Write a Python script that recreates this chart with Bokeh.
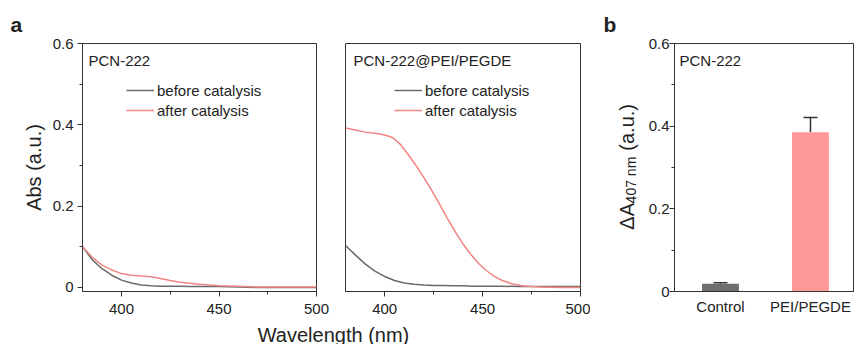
import math
from bokeh.plotting import figure
from bokeh.models import (Range1d, FixedTicker, Label, Legend, LegendItem,
                          Whisker, ColumnDataSource, TeeHead)
from bokeh.layouts import row, column
from bokeh.embed import file_html
from bokeh.resources import INLINE

# ---------------- data ----------------
wavelength = [380, 385, 390, 395, 400, 405, 410, 415, 420, 425, 430, 435,
              440, 445, 450, 460, 470, 480, 490, 500]
pcn_before = [0.100, 0.068, 0.046, 0.030, 0.018, 0.011, 0.006, 0.004, 0.003,
              0.003, 0.003, 0.002, 0.002, 0.002, 0.002, 0.001, 0.000, 0.000,
              0.000, 0.000]
pcn_after = [0.100, 0.074, 0.055, 0.043, 0.034, 0.030, 0.028, 0.026, 0.022,
             0.017, 0.013, 0.010, 0.008, 0.006, 0.004, 0.003, 0.001, 0.001,
             0.001, 0.001]
pei_before = [0.103, 0.080, 0.058, 0.040, 0.027, 0.017, 0.011, 0.008, 0.006,
              0.005, 0.005, 0.004, 0.004, 0.003, 0.003, 0.003, 0.002, 0.002,
              0.002, 0.002]
wavelength_pei_after = [380, 385, 390, 395, 400, 404, 408, 412, 416, 420, 424,
                        428, 432, 436, 440, 444, 448, 452, 456, 460, 465, 470,
                        475, 480, 490, 500]
pei_after = [0.392, 0.387, 0.382, 0.379, 0.375, 0.369, 0.352, 0.327, 0.300,
             0.270, 0.239, 0.205, 0.170, 0.137, 0.107, 0.081, 0.059, 0.041,
             0.027, 0.017, 0.009, 0.004, 0.002, 0.001, 0.000, 0.000]

categories = ["Control", "PEI/PEGDE"]
delta_a407 = [0.019, 0.385]
delta_err = [0.002, 0.036]

x_ticks = [400, 450, 500]
x_minor = [425, 475]
y_ticks = [0.0, 0.2, 0.4, 0.6]
y_minor = [0.1, 0.3, 0.5]

# ---------------- style ----------------
FONT = "Liberation Sans"
TXT = "#222222"
AX = "#333333"
GRAY = "#6a6a6a"
RED = "#f28484"
BAR_COLORS = ["#6f6f6f", "#ff9898"]
PAGE_W = 854
TOP_H = 36      # strip holding the panel letters
ROW_H = 287     # row of plots
BOT_H = 21      # strip holding the shared x label
TOP = 7
BOT = 32


def strip(width, height):
    s = figure(width=width, height=height, x_range=Range1d(0, width),
               y_range=Range1d(0, height), output_backend="svg",
               toolbar_location=None, min_border=0)
    s.axis.visible = False
    s.grid.visible = False
    s.outline_line_color = None
    s.background_fill_color = "white"
    s.border_fill_color = "white"
    return s


def make_fig(width, left, right, xr, yr):
    p = figure(width=width, height=ROW_H, x_range=xr, y_range=yr,
               output_backend="svg", toolbar_location=None,
               min_border_left=left, min_border_right=right,
               min_border_top=TOP, min_border_bottom=BOT)
    p.grid.visible = False
    p.outline_line_color = AX
    p.outline_line_width = 1
    p.background_fill_color = "white"
    p.border_fill_color = "white"
    for ax in p.axis:
        ax.axis_line_color = AX
        ax.major_tick_line_color = AX
        ax.minor_tick_line_color = AX
        ax.major_tick_out = 5
        ax.major_tick_in = 0
        ax.minor_tick_out = 3
        ax.minor_tick_in = 0
        ax.major_label_text_font = FONT
        ax.major_label_text_font_size = "15px"
        ax.major_label_text_color = TXT
        ax.axis_label_text_font = FONT
        ax.axis_label_text_font_style = "normal"
        ax.axis_label_text_color = TXT
    return p


def add_text(p, text, x, y, size="15px", style="normal", baseline="middle",
             align="left", angle=0.0, units="screen"):
    p.add_layout(Label(x=x, y=y, x_units=units, y_units=units,
                       text=text, text_font=FONT, text_font_size=size,
                       text_font_style=style, text_color=TXT,
                       text_baseline=baseline, text_align=align,
                       angle=angle))


def spectra_panel(width, left, right, title, title_x, before_x, before_y,
                  after_x, after_y, legend_x, show_y):
    p = make_fig(width, left, right, Range1d(380, 500), Range1d(-0.01, 0.6))
    p.xaxis.ticker = FixedTicker(ticks=x_ticks, minor_ticks=x_minor)
    p.xaxis.major_label_standoff = 7
    if show_y:
        p.yaxis.ticker = FixedTicker(ticks=y_ticks, minor_ticks=y_minor)
        p.yaxis.major_label_standoff = 4
        p.yaxis.axis_label = "Abs (a.u.)"
        p.yaxis.axis_label_text_font_size = "20px"
        p.yaxis.axis_label_standoff = 5
    else:
        p.yaxis.visible = False
    r1 = p.line(before_x, before_y, line_color=GRAY, line_width=1.5)
    r2 = p.line(after_x, after_y, line_color=RED, line_width=1.5)
    leg = Legend(items=[LegendItem(label="before catalysis", renderers=[r1]),
                        LegendItem(label="after catalysis", renderers=[r2])],
                 location=(legend_x, 171), orientation="vertical",
                 glyph_width=28, glyph_height=20, label_height=20,
                 label_standoff=3, spacing=0, padding=0, margin=0,
                 border_line_color=None, background_fill_alpha=0,
                 label_text_font=FONT, label_text_font_size="15px",
                 label_text_color=TXT)
    p.add_layout(leg)
    add_text(p, title, title_x, 231)
    return p


# top strip with panel letters
top = strip(PAGE_W, TOP_H)
add_text(top, "a", 10, 12.4, size="21px", style="bold", units="data")
add_text(top, "b", 603, 12.4, size="21px", style="bold", units="data")

# panel a (left)
f1 = spectra_panel(330, 82, 14, "PCN-222", 6, wavelength, pcn_before,
                   wavelength, pcn_after, 44, True)

# panel a (right)
f2 = spectra_panel(260, 15, 10, "PCN-222@PEI/PEGDE", 8, wavelength,
                   pei_before, wavelength_pei_after, pei_after, 49, False)

# y label strip for panel b: ΔA with subscript 407 nm, then (a.u.)
ys = strip(50, ROW_H)
half_pi = math.pi / 2
add_text(ys, "ΔA", 36, 87, size="20px", align="center", angle=half_pi,
         units="data")
add_text(ys, "407 nm", 40, 129, size="14px", align="center",
         angle=half_pi, units="data")
add_text(ys, "(a.u.)", 36, 190, size="20px", align="center",
         angle=half_pi, units="data")

# panel b
xpos = list(range(len(categories)))
f3 = make_fig(214, 34, 1, Range1d(-0.511, 1.478), Range1d(0, 0.6))
f3.yaxis.ticker = FixedTicker(ticks=y_ticks, minor_ticks=y_minor)
f3.yaxis.major_label_overrides = {0.0: "0", 0.2: "0.2", 0.4: "0.4", 0.6: "0.6"}
f3.yaxis.major_label_standoff = 0
f3.xaxis.ticker = FixedTicker(ticks=xpos, minor_ticks=[])
f3.xaxis.major_label_overrides = {i: c for i, c in zip(xpos, categories)}
f3.xaxis.major_tick_out = 0
f3.xaxis.major_label_standoff = 6

src = ColumnDataSource(dict(
    x=xpos, top=delta_a407, color=BAR_COLORS,
    upper=[v + e for v, e in zip(delta_a407, delta_err)]))
f3.vbar(x="x", top="top", bottom=0, width=0.41, fill_color="color",
        line_color=None, source=src)
f3.add_layout(Whisker(base="x", lower="top", upper="upper", source=src,
                      dimension="height", line_color=AX, line_width=1.5,
                      lower_head=None,
                      upper_head=TeeHead(size=14, line_color=AX,
                                         line_width=1.5)))
add_text(f3, "PCN-222", 5, 231)

# shared x label strip
bot = strip(PAGE_W, BOT_H)
add_text(bot, "Wavelength (nm)", 333, 10, size="20px", align="center",
         units="data")

layout = column(top, row(f1, f2, ys, f3), bot)
open("out.html", "w").write(file_html(layout, INLINE))
